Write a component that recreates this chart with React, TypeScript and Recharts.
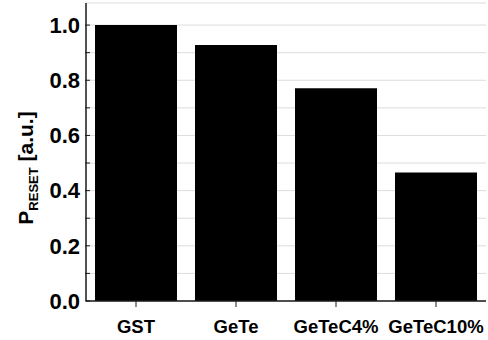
import { BarChart, Bar, XAxis, YAxis, CartesianGrid } from 'recharts'

const materials = ['GST', 'GeTe', 'GeTeC4%', 'GeTeC10%']
const pReset = [1.0, 0.928, 0.771, 0.466]
const yTicks = [0, 0.1, 0.2, 0.3, 0.4, 0.5, 0.6, 0.7, 0.8, 0.9, 1.0]
const yLabelled = [0, 0.2, 0.4, 0.6, 0.8, 1.0]

const data = materials.map((name, i) => ({ name, value: pReset[i] }))

const FONT = '"Liberation Sans", Arial, Helvetica, sans-serif'
const AXIS = '#1a1a1a'

// left ticks point into the plot, labels sit 6px left of the axis
function LeftTick(props: any) {
  const { x, y, payload } = props
  const v = payload.value as number
  const show = yLabelled.some((t) => Math.abs(t - v) < 1e-6)
  return (
    <g>
      <line x1={x + 5} x2={x + 10} y1={y} y2={y} stroke={AXIS} strokeWidth={1} />
      {show && (
        <text x={x} y={y} dy="0.355em" textAnchor="end" fontFamily={FONT} fontWeight="bold" fontSize={22} fill="#000">
          {v.toFixed(1)}
        </text>
      )}
    </g>
  )
}

function RightTick(props: any) {
  const { x, y } = props
  return <line x1={x - 4} x2={x} y1={y} y2={y} stroke={AXIS} strokeWidth={1} />
}

function TopTick(props: any) {
  const { x, y } = props
  return <line x1={x} x2={x} y1={y} y2={y - 4} stroke={AXIS} strokeWidth={1} />
}

function YLabel(props: any) {
  const vb = props.viewBox || { x: 0, y: 0 }
  const cx = vb.x + 33
  const cy = 168
  return (
    <text
      transform={`translate(${cx},${cy}) rotate(-90)`}
      textAnchor="middle"
      fontFamily={FONT}
      fontWeight="bold"
      fontSize={21}
      fill="#000"
    >
      P
      <tspan fontSize={13} dy={5}>RESET</tspan>
      <tspan dy={-5}> [a.u.]</tspan>
    </text>
  )
}

export default function App() {
  return (
    <div style={{ position: 'absolute', left: 0, top: 0, background: '#fff' }}>
      <BarChart
        width={488}
        height={340}
        data={data}
        margin={{ top: 3, right: 2, bottom: 0, left: 0 }}
        barCategoryGap={9}
      >
        <CartesianGrid yAxisId="left" vertical={false} stroke="#dcdcdc" strokeWidth={1} />
        <XAxis
          dataKey="name"
          height={39}
          axisLine={{ stroke: AXIS, strokeWidth: 1.5 }}
          tickLine={{ stroke: AXIS, strokeWidth: 1 }}
          tickSize={6}
          tickMargin={13}
          tick={{ fontFamily: FONT, fontWeight: 'bold', fontSize: 18.5, fill: '#000' }}
          interval={0}
        />
        <XAxis
          xAxisId="top"
          dataKey="name"
          orientation="top"
          height={0}
          axisLine={{ stroke: AXIS, strokeWidth: 1.5 }}
          tickLine={false}
          tickSize={0}
          tick={<TopTick />}
          interval={0}
        />
        <YAxis
          yAxisId="left"
          width={86}
          domain={[0, 1.08]}
          ticks={yTicks}
          interval={0}
          allowDataOverflow
          axisLine={{ stroke: AXIS, strokeWidth: 1.5 }}
          tickLine={false}
          tickSize={0}
          tickMargin={6}
          tick={<LeftTick />}
          label={<YLabel />}
        />
        <YAxis
          yAxisId="right"
          orientation="right"
          width={0}
          domain={[0, 1.08]}
          ticks={yTicks}
          interval={0}
          allowDataOverflow
          axisLine={{ stroke: AXIS, strokeWidth: 1.5 }}
          tickLine={false}
          tickSize={0}
          tickMargin={0}
          tick={<RightTick />}
        />
        <Bar yAxisId="left" dataKey="value" fill="#000" isAnimationActive={false} />
      </BarChart>
    </div>
  )
}
